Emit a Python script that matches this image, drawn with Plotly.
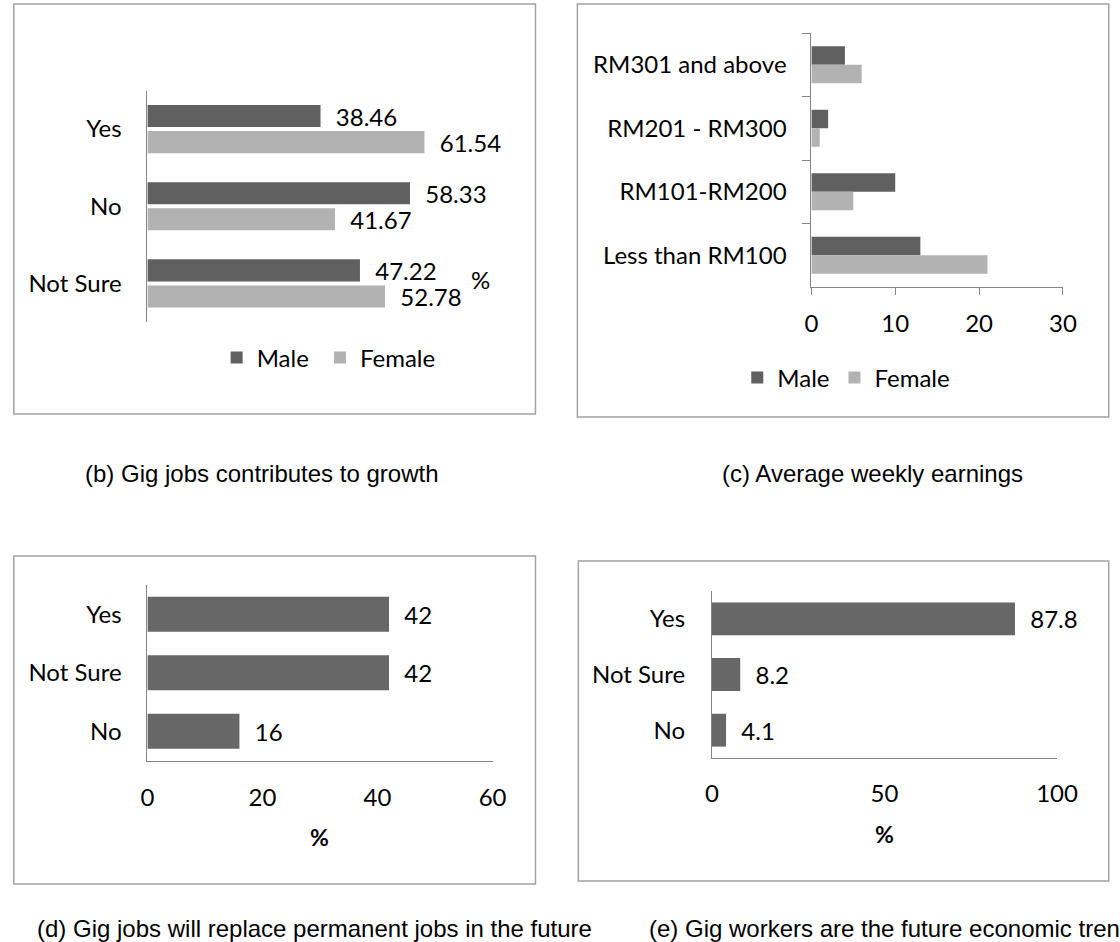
import plotly.graph_objects as go

W, H = 1120, 942

# ---------------- data ----------------
# (b) Gig jobs contributes to growth
b_categories = ["Yes", "No", "Not Sure"]
b_male = [38.46, 58.33, 47.22]
b_female = [61.54, 41.67, 52.78]

# (c) Average weekly earnings
c_categories = ["RM301 and above", "RM201 - RM300", "RM101-RM200", "Less than RM100"]
c_male = [4, 2, 10, 13]
c_female = [6, 1, 5, 21]
c_ticks = [0, 10, 20, 30]

# (d) Gig jobs will replace permanent jobs in the future
d_categories = ["Yes", "Not Sure", "No"]
d_values = [42, 42, 16]
d_ticks = [0, 20, 40, 60]

# (e) Gig workers are the future economic trend
e_categories = ["Yes", "Not Sure", "No"]
e_values = [87.8, 8.2, 4.1]
e_ticks = [0, 50, 100]

series_names = ["Male", "Female"]
captions = [
    "(b) Gig jobs contributes to growth",
    "(c) Average weekly earnings",
    "(d) Gig jobs will replace permanent jobs in the future",
    "(e) Gig workers are the future economic trend",
]


# ---------------- helpers ----------------
def px(x):
    return x / W


def py(y):
    return 1 - y / H


MALE = "#606060"
FEMALE = "#b2b2b2"
SINGLE = "#676767"
AXIS = "#868686"
BOX = "#a3a3a3"
FONT = "Lato, 'Open Sans', sans-serif"
CAPFONT = "'Liberation Sans', Arial, sans-serif"
FS = 24
NB = "\u00a0\u00a0"

fig = go.Figure()

common = dict(orientation="h", textposition="outside", cliponaxis=False,
              constraintext="none", textfont=dict(family=FONT, size=FS, color="#000"),
              hoverinfo="skip")

# (b)
fig.add_trace(go.Bar(y=b_categories, x=b_male, name=series_names[0] + "\u00a0",
                     xaxis="x", yaxis="y",
                     width=0.286, offset=-0.312, marker=dict(color=MALE, line=dict(width=0)),
                     text=[NB + f"{v:.2f}" for v in b_male], legend="legend", **common))
fig.add_trace(go.Bar(y=b_categories, x=b_female, name=series_names[1], xaxis="x", yaxis="y",
                     width=0.286, offset=0.026, marker=dict(color=FEMALE, line=dict(width=0)),
                     text=[NB + f"{v:.2f}" for v in b_female], legend="legend", **common))

# (c)
fig.add_trace(go.Bar(y=c_categories, x=c_male, name=series_names[0], xaxis="x2", yaxis="y2",
                     width=0.291, offset=-0.291, marker=dict(color=MALE, line=dict(width=0)),
                     orientation="h", legend="legend2", hoverinfo="skip"))
fig.add_trace(go.Bar(y=c_categories, x=c_female, name=series_names[1], xaxis="x2", yaxis="y2",
                     width=0.291, offset=0.0, marker=dict(color=FEMALE, line=dict(width=0)),
                     orientation="h", legend="legend2", hoverinfo="skip"))

# (d)
fig.add_trace(go.Bar(y=d_categories, x=d_values, xaxis="x3", yaxis="y3", width=0.6,
                     marker=dict(color=SINGLE, line=dict(width=0)), showlegend=False,
                     text=[NB + f"{v:g}" for v in d_values], **common))

# (e)
fig.add_trace(go.Bar(y=e_categories, x=e_values, xaxis="x4", yaxis="y4", width=0.59,
                     marker=dict(color=SINGLE, line=dict(width=0)), showlegend=False,
                     text=[NB + f"{v:g}" for v in e_values], **common))


def cat_axis(cats, domain, anchor, **kw):
    d = dict(type="category", categoryorder="array", categoryarray=cats,
             range=[len(cats) - 0.5, -0.5], domain=domain, anchor=anchor,
             showline=True, linecolor=AXIS, linewidth=1, showgrid=False, zeroline=False,
             ticks="", tickfont=dict(family=FONT, size=FS, color="#000"), fixedrange=True)
    d.update(kw)
    return d


def val_axis(rng, domain, anchor, **kw):
    d = dict(range=rng, domain=domain, anchor=anchor, showline=True, linecolor=AXIS,
             linewidth=1, showgrid=False, zeroline=False, ticks="",
             tickfont=dict(family=FONT, size=FS, color="#000"), fixedrange=True)
    d.update(kw)
    return d


fig.update_layout(
    width=W, height=H, autosize=False,
    margin=dict(l=0, r=0, t=0, b=0),
    paper_bgcolor="white", plot_bgcolor="white",
    barmode="overlay",
    font=dict(family=FONT, size=FS, color="#000"),
    # (b)
    xaxis=val_axis([0, 80], [px(144), px(144 + 4.617 * 80)], "y", visible=False),
    yaxis=cat_axis(b_categories, [py(322), py(90.5)], "x", ticklabelstandoff=20),
    # (c)
    xaxis2=val_axis([0, 30], [px(825), px(1083)], "y2", tickvals=c_ticks,
                    ticks="outside", ticklen=7, tickcolor=AXIS, ticklabelstandoff=8),
    yaxis2=cat_axis(c_categories, [py(287), py(33)], "x2", tickson="boundaries",
                    ticks="outside", ticklen=8, tickcolor=AXIS, ticklabelstandoff=19),
    # (d)
    xaxis3=val_axis([0, 60], [px(144), px(498)], "y3", tickvals=d_ticks, ticklabelstandoff=16),
    yaxis3=cat_axis(d_categories, [py(760.5), py(585)], "x3", ticklabelstandoff=20),
    # (e)
    xaxis4=val_axis([0, 100], [px(723), px(1077)], "y4", tickvals=e_ticks, ticklabelstandoff=14),
    yaxis4=cat_axis(e_categories, [py(758), py(591)], "x4", ticklabelstandoff=21),
    legend=dict(orientation="h", x=px(215), xanchor="left", y=py(358), yanchor="middle",
                font=dict(family=FONT, size=FS, color="#000"),
                bgcolor="rgba(0,0,0,0)", traceorder="normal"),
    legend2=dict(orientation="h", x=px(749), xanchor="left", y=py(378), yanchor="middle",
                 font=dict(family=FONT, size=FS, color="#000"),
                 bgcolor="rgba(0,0,0,0)", traceorder="normal"),
)

# panel frames
frames = [(7, 4, 542, 414), (585, 4, 1130, 417), (7, 556, 542, 884), (586, 561, 1130, 881)]
for x0, y0, x1, y1 in frames:
    fig.add_shape(type="rect", xref="paper", yref="paper", x0=px(x0), x1=px(x1),
                  y0=py(y1), y1=py(y0), line=dict(color=BOX, width=1.5),
                  fillcolor="rgba(0,0,0,0)", layer="below")

# annotations
fig.add_annotation(text="%", xref="paper", yref="paper", x=px(486), y=py(279),
                   xanchor="center", yanchor="middle",
                   showarrow=False, font=dict(family=FONT, size=FS, color="#000"))
fig.add_annotation(text="<b>%</b>", xref="paper", yref="paper", x=px(321), y=py(837),
                   xanchor="center", yanchor="middle",
                   showarrow=False, font=dict(family=FONT, size=23, color="#000"))
fig.add_annotation(text="<b>%</b>", xref="paper", yref="paper", x=px(900), y=py(834),
                   xanchor="center", yanchor="middle",
                   showarrow=False, font=dict(family=FONT, size=23, color="#000"))

cap_pos = [(262, 473, "center"), (888, 473, "center"), (315, 928, "center"), (656, 928, "left")]
for txt, (cx, cy, anc) in zip(captions, cap_pos):
    fig.add_annotation(text=txt, xref="paper", yref="paper", x=px(cx), y=py(cy),
                       xanchor=anc, yanchor="middle", showarrow=False,
                       font=dict(family=CAPFONT, size=24, color="#000"))

fig.write_html("out.html")
